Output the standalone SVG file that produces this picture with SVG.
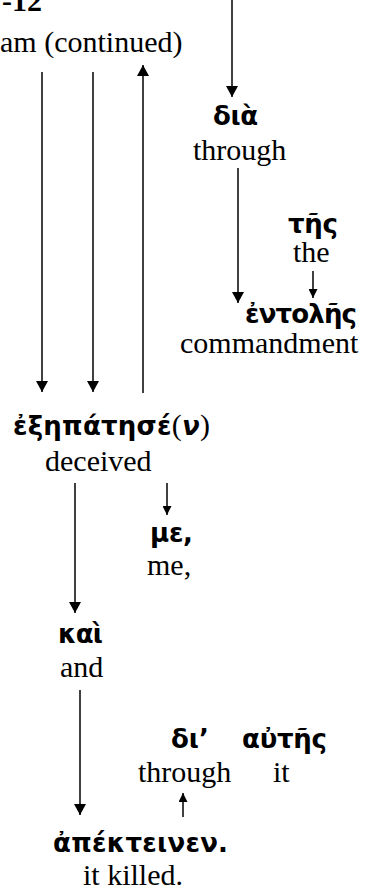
<svg xmlns="http://www.w3.org/2000/svg" width="365" height="893" viewBox="0 0 365 893">
<style>
.en{font-family:"Liberation Serif","Times New Roman",serif;font-size:30px;fill:#000}
.gk{font-family:"DejaVu Sans","Noto Sans",sans-serif;font-weight:bold;font-size:26px;fill:#000}
.ti{font-family:"Liberation Serif","Times New Roman",serif;font-size:30px;fill:#000}
.ln{stroke:#000;stroke-width:1.5;fill:none}
</style>
<defs>
<marker id="ah" markerUnits="userSpaceOnUse" viewBox="0 -6 11 12" markerWidth="11" markerHeight="12" refX="11" refY="0" orient="auto"><path d="M0,-6 L11,0 L0,6 Z" fill="#000"/></marker>
<marker id="as" markerUnits="userSpaceOnUse" viewBox="0 -4.5 9 9" markerWidth="9" markerHeight="9" refX="9" refY="0" orient="auto"><path d="M0,-4.5 L9,0 L0,4.5 Z" fill="#000"/></marker>
</defs>
<g id="title">
<text class="ti" x="2" y="11" font-weight="bold">-12</text>
<text class="ti" x="0" y="52">am (continued)</text>
</g>
<g id="connectors">
<line class="ln" x1="232" y1="0" x2="232" y2="97" marker-end="url(#ah)"/>
<line class="ln" x1="238" y1="168" x2="238" y2="303" marker-end="url(#ah)"/>
<line class="ln" x1="313" y1="271" x2="313" y2="298" marker-end="url(#as)"/>
<line class="ln" x1="42" y1="72" x2="42" y2="392" marker-end="url(#ah)"/>
<line class="ln" x1="93" y1="72" x2="93" y2="392" marker-end="url(#ah)"/>
<line class="ln" x1="143" y1="393" x2="143" y2="65" marker-end="url(#ah)"/>
<line class="ln" x1="75" y1="483" x2="75" y2="613" marker-end="url(#ah)"/>
<line class="ln" x1="167" y1="483" x2="167" y2="515" marker-end="url(#as)"/>
<line class="ln" x1="80" y1="690" x2="80" y2="815" marker-end="url(#ah)"/>
<line class="ln" x1="183" y1="817" x2="183" y2="793" marker-end="url(#as)"/>
</g>
<g id="dia">
<text class="gk" x="213" y="125" textLength="45">διὰ</text>
<text class="en" x="193" y="160">through</text>
</g>
<g id="tes">
<text class="gk" x="288" y="233" textLength="50">τῆς</text>
<text class="en" x="293" y="262">the</text>
</g>
<g id="entoles">
<text class="gk" x="245" y="323" textLength="112">ἐντολῆς</text>
<text class="en" x="180" y="353">commandment</text>
</g>
<g id="exepatese">
<text class="gk" x="13" y="435" textLength="197">ἐξηπάτησέ<tspan font-family="Liberation Serif, serif" font-weight="normal" font-size="30">(</tspan><tspan font-style="italic">ν</tspan><tspan font-family="Liberation Serif, serif" font-weight="normal" font-size="30">)</tspan></text>
<text class="en" x="45" y="471">deceived</text>
</g>
<g id="me">
<text class="gk" x="150" y="542" textLength="43">με,</text>
<text class="en" x="147" y="575">me,</text>
</g>
<g id="kai">
<text class="gk" x="58" y="643" textLength="45">καὶ</text>
<text class="en" x="60" y="677">and</text>
</g>
<g id="di">
<text class="gk" x="171" y="748">δι’</text>
<text class="en" x="138" y="782">through</text>
</g>
<g id="autes">
<text class="gk" x="242" y="748" textLength="85">αὐτῆς</text>
<text class="en" x="273" y="782">it</text>
</g>
<g id="apekteinen">
<text class="gk" x="53" y="852" textLength="175">ἀπέκτεινεν.</text>
<text class="en" x="83" y="885">it killed.</text>
</g>
</svg>
